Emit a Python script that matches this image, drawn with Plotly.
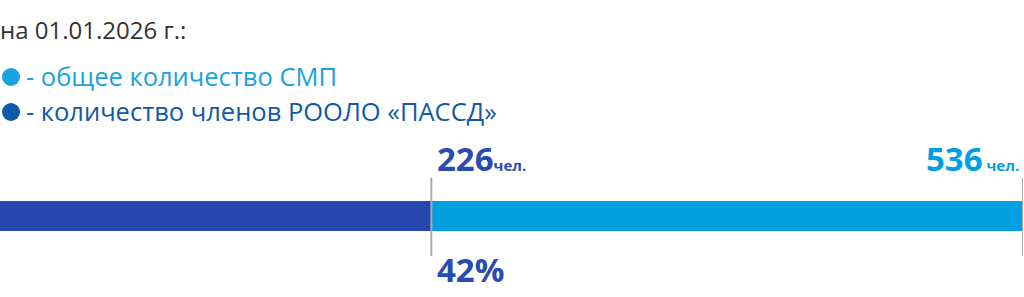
import plotly.graph_objects as go

W, H = 1024, 297
title_text = "на 01.01.2026 г.:"
legend_labels = ["- общее количество СМП", "- количество членов РООЛО «ПАССД»"]
total_smp = 536
members = 226
unit = "чел."
share_pct = round(members / total_smp * 100)

c_dark = "#2747B0"
c_light = "#00A0E0"
c_leg_light = "#1AA2E0"
c_leg_dark = "#0F5AA8"
c_text_dark = "#2A4BAF"
font_fam = "Open Sans, Noto Sans, sans-serif"

fig = go.Figure()
fig.add_trace(go.Bar(y=["a"], x=[members], base=0, orientation="h",
                     marker=dict(color=c_dark, line=dict(width=0)), showlegend=False))
fig.add_trace(go.Bar(y=["a"], x=[total_smp - members], base=members, orientation="h",
                     marker=dict(color=c_light, line=dict(width=0)), showlegend=False))

def py(pix):
    return 1 - pix / H

bar_top, bar_bot = 201, 231
fig.update_layout(
    width=W, height=H, margin=dict(l=0, r=0, t=0, b=0),
    paper_bgcolor="white", plot_bgcolor="rgba(0,0,0,0)",
    barmode="overlay", bargap=0,
    xaxis=dict(range=[0, total_smp], domain=[0, 1023 / 1024], visible=False, fixedrange=True),
    yaxis=dict(domain=[py(bar_bot), py(bar_top)], visible=False, range=[-0.5, 0.5], fixedrange=True),
    font=dict(family=font_fam),
)

# vertical markers
for xv in [members, total_smp]:
    fig.add_shape(type="line", xref="x", yref="paper", x0=xv, x1=xv,
                  y0=py(256), y1=py(178), line=dict(color="#AAAAAA", width=2), layer="above")

# title
fig.add_annotation(xref="paper", yref="paper", x=0, y=py(29), xanchor="left", yanchor="middle",
                   text=title_text, showarrow=False, font=dict(size=24, color="#333333", family=font_fam),
                   xshift=-2)

# legend
for i, (lab, col, tcol) in enumerate(zip(legend_labels, [c_leg_light, c_leg_dark], [c_leg_light, c_leg_dark])):
    yc = 77 + i * 35
    fig.add_shape(type="circle", xref="paper", yref="paper",
                  x0=2 / W, x1=20 / W, y0=py(yc + 9), y1=py(yc - 9),
                  fillcolor=col, line=dict(width=0))
    fig.add_annotation(xref="paper", yref="paper", x=24 / W, y=py(yc - 1), xanchor="left", yanchor="middle",
                       text=lab, showarrow=False, font=dict(size=25.5, color=tcol, family=font_fam))

# value labels
fig.add_annotation(xref="x", yref="paper", x=members, y=py(158), xanchor="left", yanchor="middle",
                   xshift=4, showarrow=False,
                   text=f"<b>{members}</b><b><span style='font-size:15px'>{unit}</span></b>",
                   font=dict(size=33, color=c_text_dark, family=font_fam))
fig.add_annotation(xref="x", yref="paper", x=total_smp, y=py(158), xanchor="right", yanchor="middle",
                   xshift=-2, showarrow=False,
                   text=f"<b>{total_smp}</b><b><span style='font-size:15px'> {unit}</span></b>",
                   font=dict(size=33, color=c_light, family=font_fam))
fig.add_annotation(xref="x", yref="paper", x=members, y=py(269), xanchor="left", yanchor="middle",
                   xshift=4, showarrow=False,
                   text=f"<b>{share_pct}%</b>",
                   font=dict(size=33, color=c_text_dark, family=font_fam))

fig.write_html("out.html")
